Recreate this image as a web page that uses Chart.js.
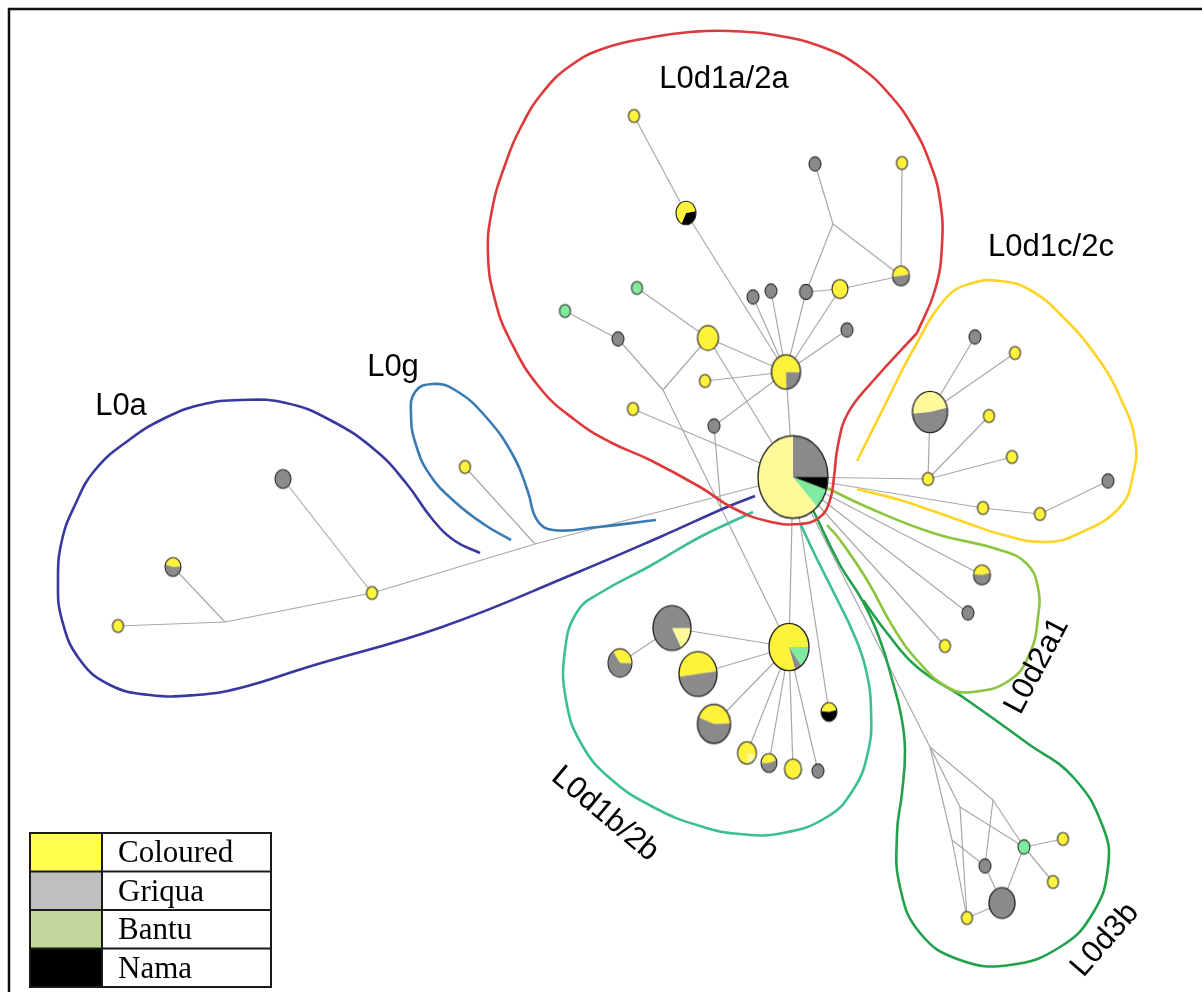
<!DOCTYPE html>
<html>
<head>
<meta charset="utf-8">
<script src="https://cdn.jsdelivr.net/npm/chart.js@4.4.1/dist/chart.umd.min.js"></script>
<style>
  html, body { margin: 0; padding: 0; background: #fff; }
  canvas { display: block; }
</style>
</head>
<body>
<canvas id="net" width="1202" height="992"></canvas>
<script>
// population groups shown in the key
const groups = ['Coloured', 'Griqua', 'Bantu', 'Nama'];

// haplotype nodes: [id, x, y, size, turn (deg from 12 o'clock), shares]
// share codes: C coloured, c coloured (pale), G griqua, B bantu, N nama
const hubNodes = [
  ['H', 793, 477, 35, 0, 'G.25 N.05 B.08 c.62']
];
const cladeA = [ // L0d1a/2a
  ['a1', 634, 116, 5.5, 0, 'C1'],
  ['a2', 686, 213, 10, 80, 'N.35 C.65'],
  ['a3', 815, 164, 6, 0, 'G1'],
  ['a4', 902, 163, 5.5, 0, 'C1'],
  ['a5', 901, 276, 8.5, -95, 'C.48 G.52'],
  ['a6', 840, 289, 8, 0, 'C1'],
  ['a7', 806, 292, 6.5, 0, 'G1'],
  ['a8', 771, 291, 6, 0, 'G1'],
  ['a9', 753, 297, 6, 0, 'G1'],
  ['a10', 847, 330, 6, 0, 'G1'],
  ['a11', 708, 338, 10.5, 0, 'C1'],
  ['a12', 786, 372, 14.5, 90, 'G.25 C.75'],
  ['a13', 705, 381, 5.5, 0, 'C1'],
  ['a14', 637, 288, 5.5, 0, 'B1'],
  ['a15', 565, 311, 5.5, 0, 'B1'],
  ['a16', 618, 339, 6, 0, 'G1'],
  ['a17', 633, 409, 5.5, 0, 'C1'],
  ['a18', 714, 426, 6, 0, 'G1']
];
const cladeC = [ // L0d1c/2c
  ['c1', 930, 412, 17.5, -95, 'c.48 G.52'],
  ['c2', 975, 337, 6, 0, 'G1'],
  ['c3', 1015, 353, 5.5, 0, 'C1'],
  ['c4', 989, 416, 5.5, 0, 'C1'],
  ['c5', 1012, 457, 5.5, 0, 'C1'],
  ['c6', 928, 479, 5.5, 0, 'C1'],
  ['c7', 983, 508, 5.5, 0, 'C1'],
  ['c8', 1040, 514, 5.5, 0, 'C1'],
  ['c9', 1108, 481, 6, 0, 'G1']
];
const cladeD = [ // L0d2a1
  ['d1', 982, 575, 8.5, -85, 'C.45 G.55'],
  ['d2', 968, 613, 6, 0, 'G1'],
  ['d3', 945, 646, 5.5, 0, 'C1']
];
const cladeE = [ // L0d3b
  ['e1', 1024, 847, 6, 0, 'B1'],
  ['e2', 1063, 839, 5.5, 0, 'C1'],
  ['e3', 1053, 882, 5.5, 0, 'C1'],
  ['e4', 985, 866, 6, 0, 'G1'],
  ['e5', 1002, 903, 13, 0, 'G1'],
  ['e6', 967, 918, 5.5, 0, 'C1']
];
const cladeB = [ // L0d1b/2b
  ['b1', 789, 647, 20, 90, 'B.145 G.055 C.8'],
  ['b2', 672, 628, 19, 90, 'c.17 G.83'],
  ['b3', 620, 663, 12, -35, 'C.35 G.65'],
  ['b4', 698, 674, 19, -97, 'C.5 G.5'],
  ['b5', 714, 724, 16.5, -70, 'C.44 G.56'],
  ['b6', 747, 753, 9.5, 100, 'c.22 C.78'],
  ['b7', 769, 763, 8, -90, 'C.45 G.55'],
  ['b8', 793, 769, 8.5, 0, 'C1'],
  ['b9', 818, 771, 6, 0, 'G1'],
  ['b10', 829, 712, 8, -85, 'C.45 N.55']
];
const cladeL = [ // L0a and L0g
  ['g1', 283, 479, 8, 0, 'G1'],
  ['g2', 173, 567, 8, -75, 'C.45 G.55'],
  ['g3', 118, 626, 5.5, 0, 'C1'],
  ['g4', 372, 593, 5.5, 0, 'C1'],
  ['g5', 465, 467, 5.5, 0, 'C1']
];

// median vectors (branch points without samples)
const junctions = [
  ['j1', 833, 224], ['j2', 663, 390], ['j3', 721, 508],
  ['jA', 930, 747], ['jB', 993, 800], ['jC', 960, 807], ['jD', 952, 840],
  ['jL1', 225, 622], ['jL2', 535, 544]
];

// links between nodes
const edgesA = [['a1','a2'],['a2','a12'],['a3','j1'],['j1','a5'],['j1','a7'],['a4','a5'],['a7','a6'],['a6','a5'],
  ['a8','a12'],['a9','a12'],['a7','a12'],['a6','a12'],['a10','a12'],['a11','a12'],['a13','a12'],['a18','a12'],
  ['a14','a11'],['a15','a16'],['a16','j2'],['j2','a11'],['a11','H'],['a17','H'],['a12','H'],['a18','j3']];
const edgesC = [['H','c6'],['c6','c1'],['c1','c2'],['c1','c3'],['c6','c4'],['c6','c5'],['H','c7'],['c7','c8'],['c8','c9']];
const edgesD = [['H','d1'],['H','d2'],['H','d3']];
const edgesE = [['H','jA'],['jA','jB'],['jA','jC'],['jA','jD'],['jD','e6'],['jC','e6'],['jC','e1'],['jB','e1'],
  ['jB','e4'],['jD','e4'],['e4','e5'],['e1','e5'],['e6','e5'],['e1','e2'],['e1','e3']];
const edgesB = [['j2','j3'],['j3','b1'],['H','b1'],['H','b10'],['b1','b2'],['b2','b3'],['b1','b4'],['b1','b5'],
  ['b1','b6'],['b1','b7'],['b1','b8'],['b1','b9']];
const edgesL = [['g3','jL1'],['jL1','g4'],['g2','jL1'],['g1','g4'],['g4','jL2'],['g5','jL2'],['jL2','H']];

// clade outlines
const outlineL0d1a = [[917,333],[935,290],[942,245],[940,200],[930,163],[913,127],[890,95],[860,67],[825,48],
  [780,36],[730,31],[690,32],[653,37],[605,48],[570,66],[543,92],[522,125],[505,165],[492,210],[488,255],[495,300],
  [510,340],[540,388],[575,420],[610,442],[650,460],[700,487],[733,508],[767,521],[800,524],[820,517],[830,500],
  [834,477],[838,445],[848,413],[873,381],[917,333]];
const outlineL0d1c = [[857,461],[870,435],[885,405],[913,350],[947,297],[973,283],[1000,281],[1030,290],[1063,317],
  [1097,357],[1120,397],[1135,440],[1133,475],[1120,507],[1080,533],[1045,542],[1000,534],[967,523],[933,511],
  [900,500],[857,489]];
const outlineL0d2a1 = [[825,487],[867,507],[933,533],[1000,550],[1027,564],[1038,588],[1038,617],[1030,653],
  [1010,680],[973,692],[947,687],[917,660],[893,627],[867,580],[840,540],[827,525]];
const outlineL0d3b = [[863,600],[887,633],[917,667],[967,700],[1027,743],[1073,777],[1103,827],[1108,867],[1093,913],
  [1060,947],[1010,965],[960,960],[920,933],[900,887],[897,833],[902,793],[905,750],[901,715],[893,683],[880,640],
  [862,600],[840,565],[813,510]];
const outlineL0d1b = [[753,512],[700,537],[650,566],[600,593],[577,612],[565,650],[566,700],[582,745],[612,780],
  [655,808],[700,826],[740,834],[783,833],[827,817],[853,790],[868,752],[871,710],[866,670],[855,637],[835,595],
  [815,555],[800,523]];
const outlineL0a = [[755,496],[727,507],[660,537],[576,573],[442,627],[308,667],[240,688],[196,695],[150,695],
  [110,685],[80,660],[62,620],[58,580],[62,540],[75,505],[95,470],[129,440],[165,418],[200,405],[241,400],
  [286,403],[330,420],[375,450],[406,483],[433,520],[455,541],[480,553]];
const outlineL0g = [[656,520],[598,527],[553,530],[537,520],[528,492],[514,457],[486,417],[455,390],[432,384],
  [415,392],[411,415],[416,445],[430,475],[455,502],[485,525],[511,540]];

// clade names and where they sit
const cladeNames = ['L0d1a/2a', 'L0d1c/2c', 'L0g', 'L0a', 'L0d2a1', 'L0d1b/2b', 'L0d3b'];
const namePlaces = [[724, 79, 0], [1051, 247, 0], [393, 367, 0], [121, 406, 0], [1037, 666, -62], [605, 814, 40], [1105, 940, -49]];

// ---- styles ----
const swatch = ['#ffff4d', '#bfbfbf', '#c3d69b', '#000000'];
const pieColors = { C: '#fff23a', c: '#fff99a', G: '#8a8a8a', B: '#80eba0', N: '#000000' };
const outlineColors = {
  L0d1a: '#dc3a3c', L0d1c: '#ffd426', L0d2a1: '#8cc63e', L0d3b: '#22a04c',
  L0d1b: '#3dbf95', L0a: '#38389e', L0g: '#3b7bb3'
};
const outlines = { L0d1a: outlineL0d1a, L0d1c: outlineL0d1c, L0d2a1: outlineL0d2a1, L0d3b: outlineL0d3b,
  L0d1b: outlineL0d1b, L0a: outlineL0a, L0g: outlineL0g };

const allNodes = [...hubNodes, ...cladeA, ...cladeC, ...cladeD, ...cladeE, ...cladeB, ...cladeL];
const allEdges = [...edgesA, ...edgesC, ...edgesD, ...edgesE, ...edgesB, ...edgesL];

const pos = {};
allNodes.forEach(n => { pos[n[0]] = { x: n[1], y: n[2] }; });
junctions.forEach(j => { pos[j[0]] = { x: j[1], y: j[2] }; });

// each node is a small pie drawn onto its own canvas and used as the point style
function pieImage(size, turn, shares) {
  const rx = size, ry = size * 1.18;
  const cv = document.createElement('canvas');
  cv.width = Math.ceil(rx * 2 + 4);
  cv.height = Math.ceil(ry * 2 + 4);
  const g = cv.getContext('2d');
  const cx = cv.width / 2, cy = cv.height / 2;
  const parts = shares.split(' ').map(s => [s[0], parseFloat(s.slice(1))]);
  let a = (turn - 90) * Math.PI / 180;
  g.save();
  g.translate(cx, cy);
  g.scale(1, ry / rx);
  parts.forEach(([k, f]) => {
    const b = a + f * Math.PI * 2;
    g.beginPath();
    g.moveTo(0, 0);
    g.arc(0, 0, rx, a, b);
    g.closePath();
    g.fillStyle = pieColors[k];
    g.fill();
    a = b;
  });
  g.restore();
  g.beginPath();
  g.ellipse(cx, cy, rx, ry, 0, 0, Math.PI * 2);
  g.lineWidth = size > 12 ? 1.4 : 1.1;
  g.strokeStyle = '#2a2a2a';
  g.stroke();
  return cv;
}

const datasets = [];

allEdges.forEach(([a, b]) => {
  datasets.push({
    data: [pos[a], pos[b]],
    showLine: true,
    borderColor: '#a8a8a8',
    borderWidth: 1.2,
    pointRadius: 0,
    order: 3
  });
});

Object.keys(outlines).forEach(k => {
  datasets.push({
    data: outlines[k].map(([x, y]) => ({ x, y })),
    showLine: true,
    tension: 0.45,
    borderColor: outlineColors[k],
    borderWidth: 2.6,
    pointRadius: 0,
    fill: false,
    order: 2
  });
});

datasets.push({
  data: allNodes.map(n => ({ x: n[1], y: n[2] })),
  pointStyle: allNodes.map(n => pieImage(n[3], n[4], n[5])),
  pointRadius: allNodes.map(n => n[3]),
  showLine: false,
  order: 0
});

// frame, clade names and the population key
const decorations = {
  id: 'decorations',
  beforeDatasetsDraw(chart) {
    const ctx = chart.ctx;
    ctx.save();
    ctx.strokeStyle = '#111';
    ctx.lineWidth = 2.5;
    ctx.beginPath();
    ctx.moveTo(9, 992);
    ctx.lineTo(9, 9);
    ctx.lineTo(1202, 9);
    ctx.stroke();
    ctx.restore();
  },
  afterDatasetsDraw(chart) {
    const ctx = chart.ctx;
    const xs = chart.scales.x, ys = chart.scales.y;

    ctx.save();
    ctx.fillStyle = '#000';
    ctx.font = '31px "Liberation Sans", Arial, sans-serif';
    ctx.textAlign = 'center';
    ctx.textBaseline = 'middle';
    cladeNames.forEach((name, i) => {
      const [x, y, rot] = namePlaces[i];
      ctx.save();
      ctx.translate(xs.getPixelForValue(x), ys.getPixelForValue(y));
      ctx.rotate(rot * Math.PI / 180);
      ctx.fillText(name, 0, 0);
      ctx.restore();
    });
    ctx.restore();

    // key table
    const left = 30, top = 833, keyW = 72, textW = 169, rowH = 38.5;
    ctx.save();
    groups.forEach((g, i) => {
      const y = top + i * rowH;
      ctx.fillStyle = swatch[i];
      ctx.fillRect(left, y, keyW, rowH);
      ctx.fillStyle = '#fff';
      ctx.fillRect(left + keyW, y, textW, rowH);
    });
    ctx.strokeStyle = '#1a1a1a';
    ctx.lineWidth = 2;
    ctx.strokeRect(left, top, keyW + textW, rowH * groups.length);
    ctx.beginPath();
    ctx.moveTo(left + keyW, top);
    ctx.lineTo(left + keyW, top + rowH * groups.length);
    for (let i = 1; i < groups.length; i++) {
      ctx.moveTo(left, top + i * rowH);
      ctx.lineTo(left + keyW + textW, top + i * rowH);
    }
    ctx.stroke();
    ctx.fillStyle = '#000';
    ctx.font = '31px "Liberation Serif", "DejaVu Serif", serif';
    ctx.textAlign = 'left';
    ctx.textBaseline = 'alphabetic';
    groups.forEach((g, i) => {
      ctx.fillText(g, left + keyW + 16, top + i * rowH + 29);
    });
    ctx.restore();
  }
};

new Chart(document.getElementById('net'), {
  type: 'scatter',
  data: { datasets },
  options: {
    responsive: false,
    animation: false,
    devicePixelRatio: 1,
    events: [],
    layout: { padding: 0, autoPadding: false },
    plugins: { legend: { display: false }, tooltip: { enabled: false } },
    scales: {
      x: { type: 'linear', min: 0, max: 1202, display: false },
      y: { type: 'linear', min: 0, max: 992, reverse: true, display: false }
    }
  },
  plugins: [decorations]
});
</script>
</body>
</html>
